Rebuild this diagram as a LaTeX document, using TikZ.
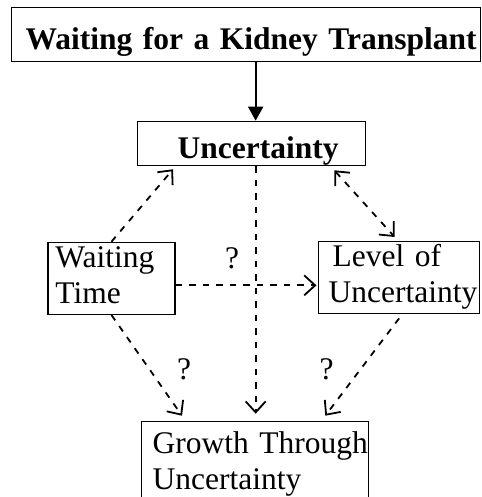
\documentclass[tikz,border=0pt]{standalone}
\usepackage{fontspec}
\setmainfont{Liberation Serif}
\usepackage{tikz}
\usetikzlibrary{arrows.meta,positioning}
\newcommand{\diagfont}{\fontsize{31.5}{36}\selectfont}
\tikzset{
  box/.style={draw, line width=1.3pt, inner ysep=0pt, align=left,
    anchor=north west, font=\diagfont},
  headbox/.style={box, font=\diagfont\bfseries},
  link/.style={->, line width=1.8pt, dash pattern=on 6.5pt off 7pt},
  push/.style={-{Triangle[length=14pt,width=15pt]}, line width=2pt},
  qmark/.style={inner sep=0pt, font=\diagfont},
}

\begin{document}
\begin{tikzpicture}[x=1pt, y=-1pt, >={Straight Barb[length=11pt,width=20pt]}]
\useasboundingbox (0,0) rectangle (481,497);
% ---------- boxes ----------
\node[headbox, inner xsep=14.3pt, text width=440.7pt, text height=42.6pt, text depth=11.4pt]
  (kidney) at (10.7,6.7) {\mbox{Waiting for a Kidney Transplant}};
\node[headbox, align=right, inner xsep=27pt, text width=174pt, text height=37.6pt, text depth=6.7pt]
  (uncert) at (137,120.7) {\mbox{Uncertainty}};
\node[box, inner xsep=7.5pt, text width=112pt] (waiting) at (47.3,241.7)
  {\mbox{\strut Waiting}\\\mbox{\strut Time}};
\node[box, inner xsep=10pt, text width=141pt] (level) at (318,241)
  {\mbox{\strut\hspace{4pt}Level of}\\\mbox{\strut Uncertainty}};
\node[box, inner xsep=11pt, inner ysep=7.4pt, text width=205pt] (growth) at (141,420.7)
  {\mbox{\strut Growth Through}\\\mbox{\strut Uncertainty}};

% ---------- connectors ----------
\draw[push] ([xshift=4pt]uncert.north |- kidney.south) -- ([xshift=4pt]uncert.north);
\draw[link] (waiting.north) -- ([xshift=36pt,yshift=-3pt]uncert.south west);
\draw[link, <->] ([xshift=-32pt,yshift=-4pt]uncert.south east) -- ([xshift=-4.5pt,yshift=4pt]level.north);
\draw[link, shorten >=7pt] ([xshift=4pt]uncert.south) -- ([xshift=4pt]uncert.south |- growth.north);
\draw[link, shorten >=1.5pt] ([yshift=-7pt]waiting.east) -- ([yshift=-7pt]waiting.east -| level.west);
\draw[link] (waiting.south) -- ([xshift=41pt,yshift=5pt]growth.north west);
\draw[link] ([yshift=-4pt]level.south) -- ([xshift=-44pt,yshift=5pt]growth.north east);

% ---------- question marks ----------
\node[qmark] (q1) at (232,258.5) {?};
\node[qmark] (q2) at (184,369) {?};
\node[qmark] (q3) at (326.5,369) {?};
\end{tikzpicture}
\end{document}
